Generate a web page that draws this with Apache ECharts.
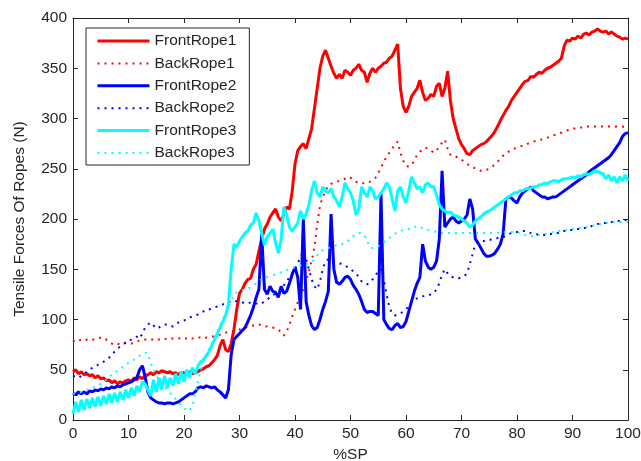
<!DOCTYPE html>
<html>
<head>
<meta charset="utf-8">
<script src="https://cdn.jsdelivr.net/npm/echarts@6/dist/echarts.min.js"></script>
<style>
  html, body { margin: 0; padding: 0; background: #fff; }
  #chart { width: 641px; height: 461px; }
</style>
</head>
<body>
<div id="chart"></div>
<script>
// Sampling positions along the stroke (%SP), every 0.5 %
const spPercent = Array.from({ length: 201 }, (_, i) => i * 0.5);

// Tensile forces (N) at each sampling position
const frontRope1 = [
  48,50,46,48,45,46,44,45,42,44,41,42,39,40,37,39,36,38,37,39,
  40,38,42,40,43,41,44,45,47,45,48,47,49,48,47,48,46,47,45,47,
  47,45,48,46,47,48,50,51,53,54,57,60,64,74,80,70,68,76,90,110,
  126,130,136,140,141,150,155,168,180,190,195,202,206,210,202,198,205,212,210,228,
  255,268,272,275,270,280,290,310,330,350,362,368,360,352,345,340,344,340,348,346,
  343,348,350,354,348,346,336,345,350,346,350,352,355,356,360,362,368,374,330,312,
  306,312,322,326,330,338,326,318,320,324,322,332,335,322,330,347,318,300,290,280,
  274,270,265,264,268,270,272,274,275,277,280,283,287,292,298,303,308,312,318,322,
  326,330,334,337,338,342,341,344,346,345,348,350,351,353,355,357,360,372,378,377,
  380,379,382,380,384,385,383,386,387,389,387,386,387,384,386,384,382,381,379,380,
  379
];
const backRope1 = [
  78,80,79,80,79,80,81,80,80,81,82,82,80,78,76,75,76,75,76,77,
  77,76,77,78,79,79,80,80,80,80,81,80,81,81,80,81,81,81,81,82,
  81,81,82,81,82,82,82,81,82,82,83,83,84,85,86,87,87,88,89,89,
  90,91,92,93,94,94,95,95,94,93,93,92,92,91,90,87,84,88,95,103,
  110,117,124,130,138,148,158,172,195,213,222,228,233,235,236,237,238,239,240,242,
  241,239,237,236,235,236,236,237,239,241,246,251,257,262,266,270,274,277,266,258,
  253,252,254,258,264,267,269,271,270,268,266,268,272,276,279,270,264,262,262,261,
  259,257,255,253,252,250,249,248,249,249,250,252,254,257,260,263,265,267,269,270,
  271,272,273,274,275,276,277,278,279,279,280,281,282,283,284,285,286,287,288,289,
  290,290,291,291,291,292,292,292,292,292,292,292,292,292,292,292,292,292,292,291,
  291
];
const frontRope2 = [
  27,25,28,26,28,26,29,28,30,29,31,30,32,31,33,32,34,33,35,36,
  37,38,40,42,50,54,43,28,22,20,18,17,17,16,17,17,16,17,18,20,
  22,24,26,26,28,32,33,32,34,33,32,33,30,28,25,22,30,65,80,83,
  86,89,92,98,104,112,122,130,185,130,125,133,128,127,122,133,126,128,136,145,
  152,142,110,200,118,104,94,90,92,100,110,118,128,205,150,137,135,138,142,143,
  140,134,130,125,118,110,107,108,108,106,104,225,100,95,91,90,94,96,92,93,
  98,108,118,128,136,142,175,158,152,150,152,158,180,248,192,196,200,202,198,196,
  198,200,204,220,210,180,176,171,166,163,163,164,166,170,175,185,220,222,221,218,
  216,222,226,228,230,232,228,226,224,222,222,220,221,222,222,224,226,228,230,232,
  234,236,238,240,242,244,247,249,251,253,255,257,259,261,264,268,272,276,282,285,
  286
];
const backRope2 = [
  44,43,42,44,46,48,50,52,53,55,56,58,60,62,65,68,71,73,75,77,
  79,80,82,83,81,86,92,95,97,94,91,92,94,95,95,94,93,95,97,98,
  99,100,102,103,104,105,107,108,110,110,111,112,113,114,115,116,117,118,119,118,
  117,117,116,116,117,117,116,115,116,118,120,122,124,126,128,130,134,138,142,146,
  150,156,162,168,160,150,140,133,130,138,150,158,160,160,158,157,156,155,154,152,
  150,148,146,142,138,136,135,137,140,144,148,150,140,125,112,106,104,105,106,108,
  110,114,118,120,121,122,123,124,124,125,126,130,136,145,150,146,143,142,142,141,
  142,143,146,155,165,175,177,178,178,179,179,180,180,181,181,182,183,185,186,187,
  187,188,188,188,187,186,185,185,184,184,184,185,185,185,186,186,187,188,188,189,
  189,190,190,190,191,191,192,193,194,195,195,196,196,197,197,197,198,198,198,199,
  199
];
const frontRope3 = [
  6,18,8,20,10,21,12,22,13,23,14,24,16,26,17,27,18,28,20,30,
  22,32,24,34,28,38,36,30,24,40,28,42,30,44,32,42,34,46,36,48,
  38,50,42,52,46,54,58,60,64,68,74,80,86,92,98,104,115,150,175,172,
  178,182,186,188,194,196,206,198,186,174,182,186,190,176,166,180,212,204,192,188,
  192,196,208,200,205,214,228,238,226,222,232,228,226,230,222,218,212,222,236,230,
  226,218,204,210,232,226,222,232,228,220,222,226,230,236,232,220,208,228,232,222,
  216,228,242,236,230,232,226,234,236,232,232,224,214,210,208,206,207,204,203,202,
  200,198,196,192,194,198,200,202,205,207,208,210,212,214,216,218,220,222,224,226,
  226,228,228,230,230,231,232,232,234,234,236,235,237,238,238,237,239,240,240,241,
  242,241,243,242,244,245,244,246,248,247,246,245,240,244,238,242,236,242,238,244,
  238
];
const backRope3 = [
  26,27,27,28,29,30,31,32,33,35,36,38,40,43,45,47,49,51,53,55,
  57,59,60,62,64,66,67,66,57,50,44,40,36,33,30,27,24,21,18,15,
  12,10,9,14,25,38,50,58,64,70,76,82,88,94,100,106,112,118,124,127,
  128,129,130,131,132,134,136,138,140,141,142,143,144,145,146,147,148,149,150,151,
  152,153,154,155,155,156,157,160,164,167,169,170,171,172,173,174,174,175,176,178,
  180,183,185,186,186,184,178,172,171,172,173,175,177,179,181,183,185,187,188,189,
  189,190,191,192,193,192,191,190,189,188,188,187,187,186,186,186,186,186,186,186,
  186,186,186,186,186,186,186,186,186,186,186,186,186,186,187,187,187,187,187,187,
  187,186,185,184,183,183,183,184,184,185,185,186,186,187,187,188,188,189,189,190,
  190,190,191,191,192,192,193,193,194,194,195,195,196,196,196,197,197,197,197,197,
  197
];

const seriesNames = ['FrontRope1', 'BackRope1', 'FrontRope2', 'BackRope2', 'FrontRope3', 'BackRope3'];
const seriesValues = [frontRope1, backRope1, frontRope2, backRope2, frontRope3, backRope3];
const seriesColors = ['#ff0000', '#ff0000', '#0000ff', '#0000ff', '#00ffff', '#00ffff'];
const seriesDotted = [false, true, false, true, false, true];

const xAxisTitle = '%SP';
const yAxisTitle = 'Tensile Forces Of Ropes (N)';

const FONT = "'Liberation Sans', Arial, sans-serif";
const FONT_SIZE = 15.5;
const INK = '#262626';

const pairs = vals => vals.map((v, i) => [spPercent[i], v]);

const lineStyleFor = i => seriesDotted[i]
  ? { color: seriesColors[i], width: 2, type: [2, 5] }
  : { color: seriesColors[i], width: 3, type: 'solid' };

const textStyle = { color: INK, fontSize: FONT_SIZE, fontFamily: FONT };

const frameAxis = (extra) => Object.assign({
  type: 'value',
  splitLine: { show: false },
  axisLine: { show: true, onZero: false, lineStyle: { color: INK, width: 1 } },
  axisTick: { show: true, inside: true, length: 5, lineStyle: { color: INK, width: 1 } },
  axisLabel: Object.assign({ margin: 6 }, textStyle)
}, extra);

const chart = echarts.init(document.getElementById('chart'), null, { renderer: 'canvas' });

chart.setOption({
  animation: false,
  backgroundColor: '#ffffff',
  grid: { left: 73, right: 13, top: 18, bottom: 41, outerBoundsMode: 'none' },
  xAxis: [
    frameAxis({
      position: 'bottom', min: 0, max: 100, interval: 10,
      name: xAxisTitle, nameLocation: 'middle', nameGap: 24,
      nameTextStyle: textStyle
    }),
    frameAxis({
      position: 'top', min: 0, max: 100, interval: 10,
      axisLabel: { show: false }
    })
  ],
  yAxis: [
    frameAxis({
      position: 'left', min: 0, max: 400, interval: 50,
      name: yAxisTitle, nameLocation: 'middle', nameGap: 45, nameRotate: 90,
      nameTextStyle: textStyle
    }),
    frameAxis({
      position: 'right', min: 0, max: 400, interval: 50,
      axisLabel: { show: false }
    })
  ],
  legend: {
    orient: 'vertical',
    left: 86,
    top: 28,
    padding: [5, 13, 4, 10],
    itemWidth: 52,
    itemHeight: 16,
    itemGap: 6.4,
    backgroundColor: '#ffffff',
    borderColor: INK,
    borderWidth: 1,
    borderRadius: 0,
    // line samples only, no marker in the middle
    itemStyle: { opacity: 0 },
    textStyle: Object.assign({ lineHeight: 16 }, textStyle),
    data: seriesNames.map((name, i) => ({
      name,
      lineStyle: lineStyleFor(i)
    }))
  },
  series: seriesNames.map((name, i) => ({
    name,
    type: 'line',
    xAxisIndex: 0,
    yAxisIndex: 0,
    data: pairs(seriesValues[i]),
    symbol: 'none',
    showSymbol: false,
    smooth: false,
    clip: true,
    itemStyle: { color: seriesColors[i] },
    lineStyle: lineStyleFor(i),
    emphasis: { disabled: true }
  }))
});
</script>
</body>
</html>
